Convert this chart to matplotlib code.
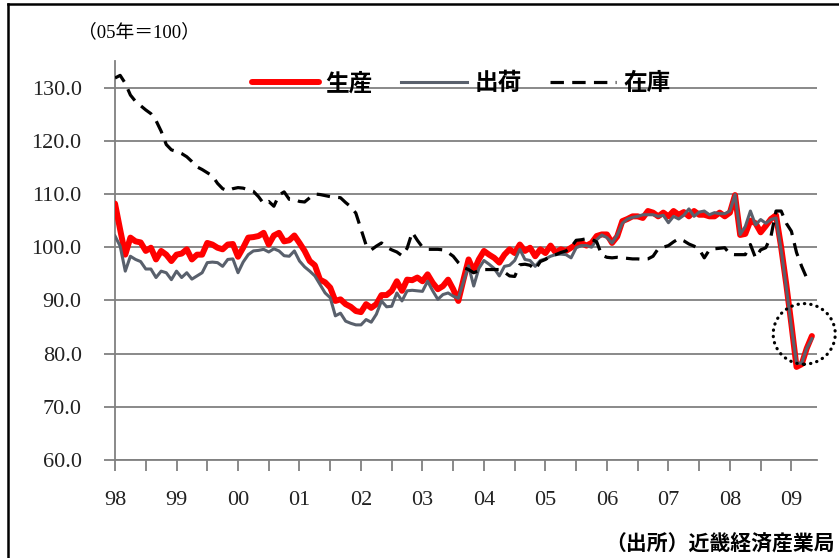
import numpy as np
import matplotlib
matplotlib.use("Agg")
import matplotlib.pyplot as plt
from matplotlib.patches import Ellipse
from matplotlib.lines import Line2D

# 月次データ 1998年1月～ (05年=100)
production = [
    108.2, 103.3, 98.6, 101.8, 101.1, 100.9, 99.3, 99.9, 97.7, 99.3, 98.6, 97.4,      # 98
    98.6, 98.8, 99.6, 97.7, 98.6, 98.6, 100.8, 100.5, 99.9, 99.6, 100.5, 100.6,       # 99
    98.2, 99.9, 101.8, 101.9, 102.1, 102.7, 100.5, 102.2, 102.7, 101.1, 101.3, 102.2, # 00
    100.8, 99.3, 97.4, 96.6, 93.9, 93.4, 92.4, 89.9, 90.2, 89.3, 88.8, 88.0,          # 01
    87.8, 89.3, 88.6, 89.3, 91.0, 91.0, 91.8, 93.6, 91.8, 93.9, 93.8, 94.3,           # 02
    93.6, 94.9, 93.3, 92.1, 92.7, 93.9, 92.1, 89.9, 93.9, 97.7, 95.5, 97.7,           # 03
    99.3, 98.6, 98.0, 97.1, 98.6, 99.6, 98.9, 100.5, 99.3, 99.9, 98.3, 99.6,          # 04
    98.9, 100.3, 99.0, 99.6, 99.3, 99.9, 100.5, 100.8, 100.3, 100.8, 102.1, 102.4,    # 05
    102.4, 100.8, 102.0, 104.9, 105.3, 105.8, 105.8, 105.5, 106.8, 106.5, 105.8, 106.5, # 06
    105.8, 106.8, 106.1, 106.6, 105.8, 106.8, 106.1, 106.1, 105.8, 105.8, 106.5, 105.8, # 07
    106.5, 109.8, 102.3, 102.5, 105.0, 104.5, 102.8, 104.0, 105.3, 106.0, 100.0, 93.0,  # 08
    85.5, 77.5, 78.0, 81.0, 83.3,                                                       # 09
]
shipments = [
    102.1, 100.2, 95.5, 98.3, 97.7, 97.3, 95.9, 95.9, 94.3, 95.5, 95.2, 93.9,
    95.5, 94.3, 95.2, 94.0, 94.6, 95.2, 97.1, 97.2, 97.1, 96.4, 97.7, 97.8,
    95.2, 97.2, 98.6, 99.3, 99.4, 99.6, 99.1, 99.7, 99.3, 98.4, 98.3, 99.3,
    97.4, 96.3, 95.5, 94.6, 93.0, 91.4, 90.5, 87.1, 87.6, 86.1, 85.7, 85.4,
    85.4, 86.4, 85.9, 87.4, 89.9, 88.8, 88.9, 91.4, 89.9, 91.8, 91.9, 91.8,
    91.7, 93.6, 91.8, 90.2, 91.1, 91.4, 90.8, 90.4, 93.5, 96.5, 92.7, 96.0,
    97.5, 96.8, 96.0, 94.6, 96.4, 96.6, 97.5, 99.6, 97.7, 97.5, 96.4, 97.5,
    97.8, 98.3, 98.6, 98.7, 98.6, 98.0, 99.9, 100.3, 100.3, 100.0, 101.4, 102.3,
    101.8, 100.8, 102.3, 104.5, 105.3, 105.6, 105.8, 106.1, 106.1, 106.1, 105.8, 106.0,
    104.6, 105.8, 105.3, 106.0, 107.2, 105.8, 106.6, 106.8, 106.1, 106.5, 106.3, 106.3,
    106.8, 109.9, 102.4, 103.9, 106.8, 104.2, 105.2, 104.5, 105.2, 105.5, 99.5, 92.5,
    85.0, 78.2, 78.2, 81.0, 82.8,
]
inventory = [
    131.8, 132.3, 130.8, 128.6, 127.4, 126.6, 125.8, 125.1, 123.8, 121.8, 119.3, 118.3,
    118.0, 117.6, 117.0, 116.1, 115.1, 114.6, 114.0, 113.4, 112.0, 111.0, 110.6, 111.0,
    111.2, 111.1, 110.8, 110.5, 109.5, 108.2, 108.6, 107.7, 109.8, 110.4, 109.0, 109.0,
    108.6, 108.5, 109.3, 110.0, 109.9, 109.7, 109.5, 109.4, 109.3, 108.4, 107.6, 106.4,
    103.4, 100.4, 99.5, 100.2, 100.8, 100.0, 99.5, 99.1, 98.4, 99.8, 102.8, 101.3,
    100.0, 99.6, 99.6, 99.6, 99.5, 99.0, 98.3, 97.1, 96.2, 95.8, 95.2, 95.6,
    95.8, 95.8, 95.8, 95.8, 95.3, 94.6, 94.5, 96.7, 96.8, 96.6, 95.8, 97.3,
    97.7, 98.3, 98.6, 99.0, 99.3, 100.0, 101.3, 101.4, 101.6, 101.5, 101.0, 98.5,
    98.1, 98.0, 98.1, 98.0, 97.9, 97.8, 97.8, 97.7, 97.8, 98.3, 99.7, 100.0,
    100.3, 101.0, 101.6, 101.2, 100.6, 100.2, 99.6, 98.0, 99.5, 99.7, 99.8, 99.9,
    98.7, 98.6, 98.6, 98.6, 100.5, 98.0, 99.5, 99.9, 102.0, 106.8, 106.8, 104.5,
    103.0, 99.0, 96.4, 94.2,
]
year_labels = ["98", "99", "00", "01", "02", "03", "04", "05", "06", "07", "08", "09"]
n_months = 138  # 98年1月～09年6月

SERIF = "Liberation Serif"
CJK = "Noto Sans CJK JP"
GRID = "#808080"

fig = plt.figure(figsize=(8.39, 5.58), dpi=100)
ax = fig.add_axes([0.1371, 0.1756, 0.8367, 0.7151])

ax.plot(np.arange(len(production)), production, color="#FF0000", lw=4.3,
        solid_joinstyle="round", solid_capstyle="round", label="生産", zorder=3)
ax.plot(np.arange(len(shipments)), shipments, color="#59606C", lw=2.2,
        solid_joinstyle="round", label="出荷", zorder=4)
ax.plot(np.arange(len(inventory)), inventory, color="black", lw=2.3,
        ls=(0, (4.2, 2.6)), label="在庫", zorder=5)

# 直近の落ち込みを囲む点線
tail_x = np.arange(len(production))[-4:]
ell = Ellipse((tail_x.mean(), np.mean(production[-4:]) + 3.75), 12.1, 11.4,
              fill=False, ec="black", lw=2.3, ls=(0, (0.1, 1.9)),
              capstyle="round", clip_on=False, zorder=6)
ax.add_patch(ell)

ax.set_xlim(0, n_months - 1)
ax.set_ylim(60, 135)
ax.set_yticks(np.arange(60, 131, 10))
ax.set_yticklabels([f"{v:.1f}" for v in np.arange(60, 131, 10)],
                   fontfamily=SERIF, fontsize=16, color="#222222")
ax.grid(axis="y", color=GRID, lw=1.3)
ax.set_axisbelow(True)

ax.set_xticks(np.arange(0, n_months, 12))
ax.set_xticklabels(year_labels, fontfamily=SERIF, fontsize=16, color="#222222")
ax.set_xticks(np.arange(6, n_months, 12), minor=True)
ax.tick_params(axis="x", which="both", length=8, width=1.3, color=GRID)
ax.tick_params(axis="x", which="major", pad=14)
ax.tick_params(axis="y", length=8, width=1.3, color=GRID, pad=16)

for side in ["top", "right"]:
    ax.spines[side].set_visible(False)
for side in ["left", "bottom"]:
    ax.spines[side].set_color(GRID)
    ax.spines[side].set_linewidth(1.3)

fig.legend(loc="center", bbox_to_anchor=(0.55, 0.851), ncol=3, frameon=False,
           handlelength=2.8, handletextpad=0.3, columnspacing=1.2,
           prop={"family": CJK, "weight": "bold", "size": 17})

fig.text(0.093, 0.942, "（05年＝100）", family=[SERIF, CJK], fontsize=13.5,
         ha="left", va="center")
fig.text(0.995, 0.025, "（出所）近畿経済産業局", family=CJK, weight="bold",
         fontsize=15, ha="right", va="center")

# 外枠
fig.add_artist(Line2D([8 / 839, 8 / 839], [0, 1 - 4 / 558], color="black", lw=1.8,
                      transform=fig.transFigure))
fig.add_artist(Line2D([8 / 839, 1], [1 - 4 / 558, 1 - 4 / 558], color="black", lw=1.8,
                      transform=fig.transFigure))

fig.savefig("out.png", dpi=100)
